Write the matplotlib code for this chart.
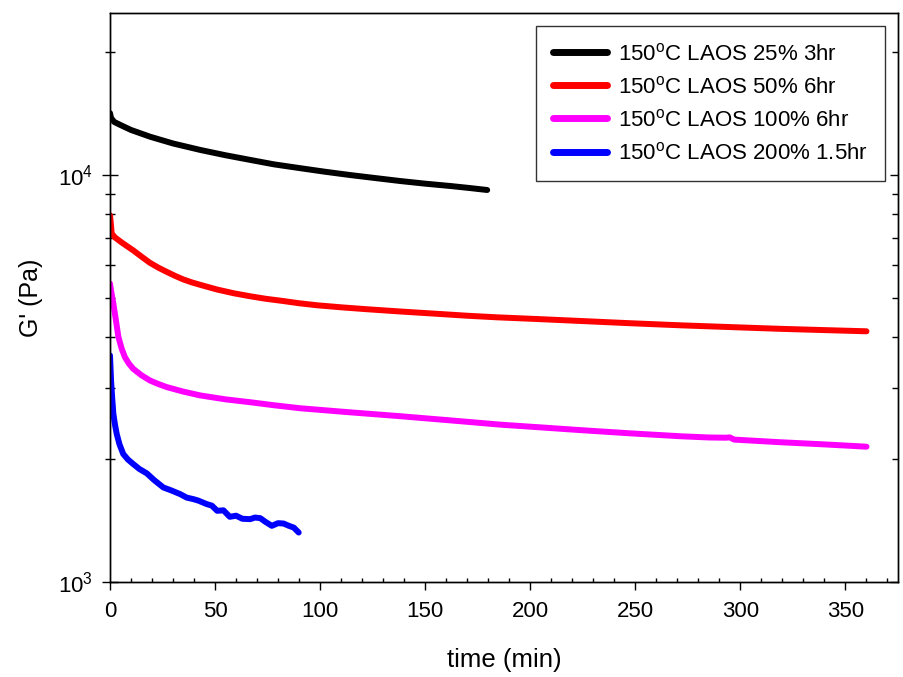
import matplotlib
matplotlib.use("Agg")
import matplotlib.pyplot as plt
from matplotlib.ticker import LogLocator, MultipleLocator, NullFormatter
import numpy as np

plt.rcParams['font.family'] = ['Liberation Sans', 'DejaVu Sans']
plt.rcParams['mathtext.fontset'] = 'custom'
plt.rcParams['mathtext.rm'] = 'Liberation Sans'
plt.rcParams['mathtext.it'] = 'Liberation Sans:italic'
plt.rcParams['mathtext.default'] = 'regular'

# G' (Pa) vs time (min)
t_25 = [0, 0.5, 2, 4.8, 10, 19, 30, 43, 55, 66.7, 78, 90.6, 102, 114, 126, 138, 150, 162, 171, 179.5]
g_25 = [14190, 13800, 13500, 13280, 12900, 12420, 11950, 11520, 11180, 10890, 10620, 10390, 10190, 10000, 9830, 9665, 9520, 9395, 9290, 9185]

t_50 = [0, 0.4, 0.8, 2.4, 6, 11, 15, 19, 23, 27, 31, 35, 39, 43, 51, 59, 66.7, 74, 82.6, 90, 98.5, 110, 122, 138, 154, 170, 184, 204,
        224, 248, 272, 296, 319, 340, 360]
g_50 = [7960, 7600, 7180, 7020, 6800, 6530, 6300, 6085, 5920, 5780, 5650, 5535, 5445, 5370, 5230, 5120, 5035, 4965, 4900, 4840, 4785, 4730, 4680, 4620,
        4565, 4510, 4470, 4425, 4378, 4322, 4271, 4228, 4188, 4158, 4130]

t_100 = [0, 0.5, 1.6, 2.8, 4, 5.5, 7.1, 9, 11, 15, 19, 23, 27, 35, 43, 55, 66.7, 78, 90.6, 114, 138, 162, 186, 205, 224, 248, 272, 285, 293,
         295, 297, 319, 340, 360]
g_100 = [5410, 5200, 4830, 4400, 4000, 3750, 3568, 3440, 3342, 3220, 3127, 3065, 3012, 2935, 2873, 2810, 2765, 2718, 2672, 2612, 2555, 2495, 2435,
         2398, 2361, 2318, 2280, 2265, 2262, 2266, 2238, 2205, 2178, 2150]

t_200 = [0, 0.5, 1, 1.6, 2.4, 3.2, 4.5, 6.3, 8.5, 11, 14, 17.5, 21, 25.4, 29, 33.4, 36.5, 39.7, 42, 46, 48.5, 51, 54, 57, 60, 63, 66.7,
         69, 71.5, 74, 77, 80, 82.6, 85, 87.5, 89.8]
g_200 = [3603, 3127, 2850, 2588, 2430, 2311, 2180, 2063, 2000, 1950, 1895, 1849, 1780, 1707, 1680, 1644, 1612, 1598, 1585, 1554, 1540, 1496, 1500, 1446, 1455, 1430, 1427,
         1440, 1435, 1405, 1374, 1395, 1392, 1375, 1360, 1323]

series = [
    (t_25, g_25, 'black', '150$^{o}$C LAOS 25% 3hr'),
    (t_50, g_50, 'red', '150$^{o}$C LAOS 50% 6hr'),
    (t_100, g_100, 'magenta', '150$^{o}$C LAOS 100% 6hr'),
    (t_200, g_200, 'blue', '150$^{o}$C LAOS 200% 1.5hr'),
]

fig = plt.figure(figsize=(9.04, 6.77), dpi=100)
ax = fig.add_axes([110 / 904, 95 / 677, 788 / 904, 569 / 677])

for t, g, c, lab in series:
    ax.plot(t, g, color=c, lw=4.3, label=lab, solid_capstyle='round', solid_joinstyle='round')

ax.set_yscale('log')
ax.set_xlim(0, 375)
ax.set_ylim(1000, 25000)

ax.xaxis.set_major_locator(MultipleLocator(50))
ax.xaxis.set_minor_locator(MultipleLocator(10))
ax.yaxis.set_major_locator(LogLocator(base=10))
ax.yaxis.set_minor_locator(LogLocator(base=10, subs=np.arange(2, 10)))
ax.yaxis.set_minor_formatter(NullFormatter())

ax.tick_params(axis='x', which='major', direction='out', length=5.5, width=1, labelsize=16, pad=8)
ax.tick_params(axis='x', which='minor', direction='in', length=3, width=1)
ax.tick_params(axis='y', which='major', direction='inout', length=12, width=1, labelsize=16, pad=6)
ax.tick_params(axis='y', which='minor', direction='inout', length=7, width=1)

# right-hand ticks point inward only
ax2 = ax.twinx()
ax2.set_yscale('log')
ax2.set_ylim(ax.get_ylim())
ax2.yaxis.set_major_locator(LogLocator(base=10))
ax2.yaxis.set_minor_locator(LogLocator(base=10, subs=np.arange(2, 10)))
ax2.tick_params(axis='y', which='both', direction='in', labelright=False, width=1)
ax2.tick_params(axis='y', which='major', length=6)
ax2.tick_params(axis='y', which='minor', length=4)

for s in list(ax.spines.values()) + list(ax2.spines.values()):
    s.set_linewidth(1)

ax.set_xlabel('time (min)', fontsize=18.5, labelpad=19)
ax.set_ylabel("G' (Pa)", fontsize=18, labelpad=11)

leg = ax2.legend(*ax.get_legend_handles_labels(), loc='upper right', fontsize=16, frameon=True, fancybox=False,
                 shadow=False, handlelength=2.45, handletextpad=0.5, labelspacing=0.5, borderpad=0.75,
                 borderaxespad=0.6, edgecolor='black')
leg.get_frame().set_linewidth(1)
for h in leg.get_lines():
    h.set_linewidth(5)

fig.savefig('out.png', dpi=100)
